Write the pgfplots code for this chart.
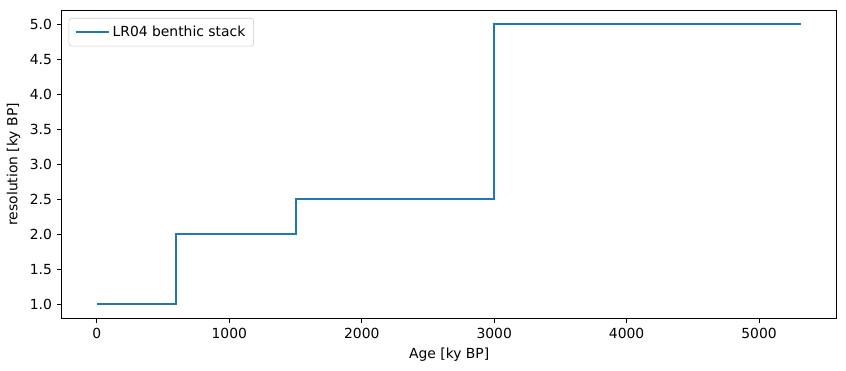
\documentclass[border=0pt]{standalone}
\usepackage{pgfplots}
\pgfplotsset{compat=1.18}
\usepackage{fontspec}
\setmainfont{DejaVu Sans}
\definecolor{c0}{HTML}{1F77B4}
\begin{document}
\begin{tikzpicture}
\begin{axis}[
  name=ax,
  scale only axis,
  width=558pt, height=221.8pt,
  xmin=-266, xmax=5586,
  ymin=0.8, ymax=5.2,
  xtick={0,1000,2000,3000,4000,5000},
  ytick={1,1.5,2,2.5,3,3.5,4,4.5,5},
  /pgf/number format/assume math mode=true,
  xticklabel style={/pgf/number format/.cd, fixed, 1000 sep={}},
  yticklabel style={/pgf/number format/.cd, fixed, fixed zerofill, precision=1},
  tick label style={font=\fontsize{10}{12}\selectfont},
  label style={font=\fontsize{10}{12}\selectfont},
  tick align=outside,
  tick pos=left,
  major tick length=3.5pt,
  every tick/.style={black, line width=0.8pt},
  axis line style={line width=0.8pt},
  xlabel={Age [ky BP]},
  ylabel={resolution [ky BP]},
  legend cell align=left,
  legend style={font=\fontsize{10}{12}\selectfont, draw=black!20, rounded corners=2pt, fill=white, fill opacity=0.8, text opacity=1, at={(0.009,0.975)}, anchor=north west, inner xsep=4pt, inner ysep=3.5pt},
  legend image code/.code={\draw[#1] (0pt,0pt) -- (20pt,0pt); \path (0pt,0pt) -- (24pt,0pt);},
]
\addplot[c0, line width=1.5pt, const plot mark left] coordinates {
  (0,1) (600,2) (1500,2.5) (3000,5) (5320,5)
};
\addlegendentry{LR04 benthic stack}
\end{axis}
\path ([xshift=-44.4pt, yshift=-37.9pt]ax.south west) rectangle ([xshift=6.7pt, yshift=7.4pt]ax.north east);
\end{tikzpicture}
\end{document}
